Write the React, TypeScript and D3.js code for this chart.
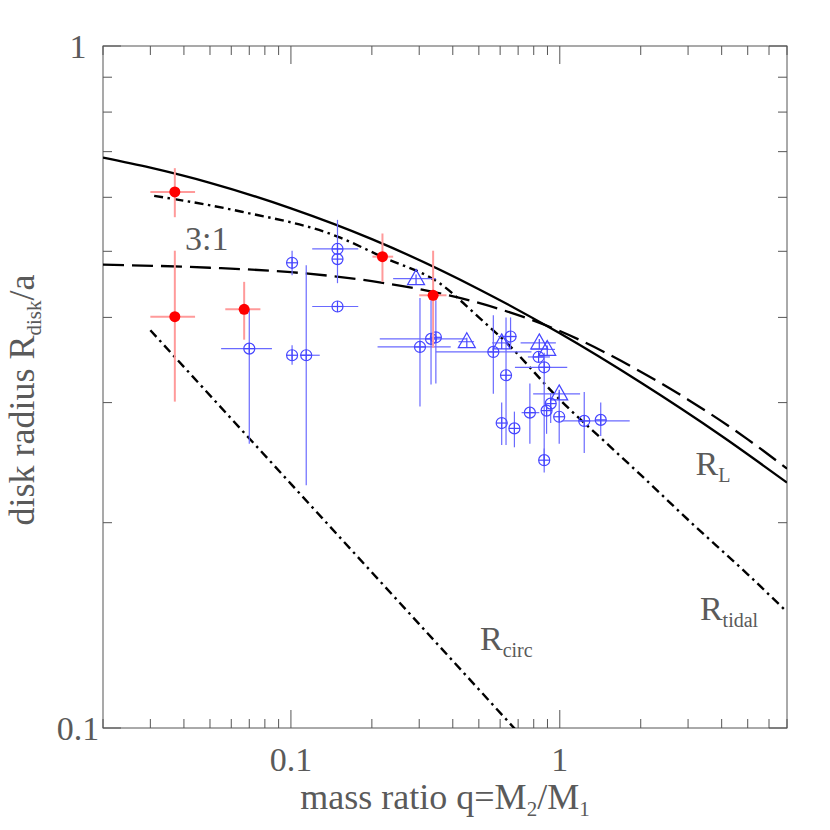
import React from "react";
import * as d3 from "d3";

// model curves (q, R/a)
const rlQ = [0.02, 0.03, 0.05, 0.1, 0.2, 0.5, 1, 2, 4, 7];
const rlR = [0.686, 0.663, 0.63, 0.578, 0.521, 0.44, 0.379, 0.321, 0.268, 0.229];
const res31Q = [0.02, 0.05, 0.1, 0.2, 0.3, 0.5, 1, 2, 3, 5, 7];
const res31R = [0.478, 0.473, 0.466, 0.452, 0.44, 0.42, 0.382, 0.333, 0.303, 0.265, 0.24];
const tidalQ = [0.031, 0.065, 0.15, 0.22, 0.36, 0.5, 0.63, 1, 1.5, 2, 3, 5, 7];
const tidalR = [0.603, 0.572, 0.525, 0.49, 0.448, 0.4, 0.368, 0.303, 0.261, 0.235, 0.202, 0.168, 0.148];
const circQ = [0.03, 0.1, 0.3, 0.7];
const circR = [0.383, 0.228, 0.142, 0.0985];

// red filled points
const redQ = [0.037, 0.037, 0.067, 0.219, 0.338];
const redR = [0.611, 0.401, 0.411, 0.491, 0.431];
const redQLo = [0.03, 0.03, 0.057, 0.201, 0.3];
const redQHi = [0.044, 0.044, 0.077, 0.24, 0.379];
const redRLo = [0.561, 0.301, 0.371, 0.451, 0.361];
const redRHi = [0.662, 0.501, 0.451, 0.531, 0.501];

// blue open circles
const circQs = [0.101, 0.07, 0.101, 0.114, 0.149, 0.149, 0.149, 0.332, 0.346, 0.302, 0.566, 0.631,
  0.656, 0.608, 0.678, 0.834, 0.875, 0.925, 0.893, 0.774, 0.995, 1.233, 1.42, 0.875];
const circRs = [0.481, 0.36, 0.352, 0.352, 0.504, 0.487, 0.415, 0.372, 0.374, 0.362, 0.356, 0.329,
  0.375, 0.28, 0.275, 0.35, 0.338, 0.299, 0.292, 0.29, 0.286, 0.282, 0.283, 0.247];
const circQLo = [0.101, 0.055, 0.101, 0.108, 0.12, 0.149, 0.12, 0.214, 0.346, 0.21, 0.346, 0.631,
  0.59, 0.608, 0.678, 0.761, 0.681, 0.925, 0.893, 0.721, 0.995, 1.016, 1.42, 0.875];
const circQHi = [0.101, 0.085, 0.101, 0.128, 0.178, 0.149, 0.178, 0.448, 0.346, 0.393, 0.785, 0.631,
  0.69, 0.608, 0.678, 0.919, 1.066, 0.925, 0.893, 0.839, 0.995, 1.82, 1.42, 0.875];
const circRLo = [0.461, 0.261, 0.341, 0.227, 0.449, 0.487, 0.415, 0.319, 0.32, 0.296, 0.309, 0.26,
  0.36, 0.26, 0.258, 0.35, 0.245, 0.28, 0.27, 0.261, 0.261, 0.253, 0.268, 0.237];
const circRHi = [0.501, 0.41, 0.364, 0.477, 0.556, 0.487, 0.415, 0.424, 0.424, 0.427, 0.403, 0.4,
  0.4, 0.3, 0.291, 0.35, 0.355, 0.31, 0.3, 0.32, 0.311, 0.311, 0.3, 0.257];

// blue open triangles
const triQ = [0.292, 0.451, 0.608, 0.839, 0.898, 0.995];
const triR = [0.456, 0.3685, 0.367, 0.367, 0.359, 0.309];
const triQLo = [0.24, 0.42, 0.56, 0.715, 0.78, 0.796];
const triQHi = [0.346, 0.48, 0.66, 0.967, 0.96, 1.19];

const xMajor = [0.1, 1];
const xTickLabels = ["0.1", "1"];
const yMajor = [0.1, 1];
const yTickLabels = ["0.1", "1"];

const font = "'Liberation Serif', 'Times New Roman', serif";
const textCol = "#5a5a5a";
const blue = "#4646ff";
const blueBar = "#6a6aff";
const red = "#ff0000";
const redBar = "#ff9a9a";

export default function App() {
  const x = d3.scaleLog().domain([0.02, 7]).range([103, 787]);
  const y = d3.scaleLog().domain([0.1, 1]).range([728, 46]);
  const [x0, x1] = x.range();
  const [y0, y1] = y.range();

  const line = d3.line<[number, number]>()
    .x(d => x(d[0]))
    .y(d => y(d[1]))
    .curve(d3.curveMonotoneX);
  const pairs = (qs: number[], rs: number[]) => qs.map((q, i) => [q, rs[i]] as [number, number]);

  const isMajor = (v: number) => Math.abs(Math.log10(v) - Math.round(Math.log10(v))) < 1e-6;
  const xt = x.ticks();
  const yt = y.ticks();

  const tri = (cx: number, cy: number) =>
    `M${cx},${cy - 9}L${cx + 8.5},${cy + 6}L${cx - 8.5},${cy + 6}Z`;

  return (
    <svg width={830} height={830} style={{ position: "absolute", left: 0, top: 0 }}>
      <rect width={830} height={830} fill="white" />
      <defs>
        <clipPath id="plot">
          <rect x={x0} y={y1} width={x1 - x0} height={y0 - y1} />
        </clipPath>
      </defs>

      {/* ticks on all four sides */}
      <g stroke="#555" strokeWidth={1}>
        {xt.map((v, i) => {
          const len = isMajor(v) ? 18 : 9;
          return (
            <g key={"xt" + i}>
              <line x1={x(v)} x2={x(v)} y1={y0} y2={y0 - len} />
              <line x1={x(v)} x2={x(v)} y1={y1} y2={y1 + len} />
            </g>
          );
        })}
        {yt.map((v, i) => {
          const len = isMajor(v) ? 18 : 9;
          return (
            <g key={"yt" + i}>
              <line x1={x0} x2={x0 + len} y1={y(v)} y2={y(v)} />
              <line x1={x1} x2={x1 - len} y1={y(v)} y2={y(v)} />
            </g>
          );
        })}
        <rect x={x0} y={y1} width={x1 - x0} height={y0 - y1} fill="none" />
      </g>

      {/* tick labels */}
      <g fontFamily={font} fontSize={34} fill={textCol} textAnchor="middle">
        {xMajor.map((v, i) => (
          <text key={"xl" + i} x={x(v)} y={771}>{xTickLabels[i]}</text>
        ))}
        {yMajor.map((v, i) => (
          <text key={"yl" + i} x={78} y={y(v) + 12}>{yTickLabels[i]}</text>
        ))}
      </g>

      {/* axis titles */}
      <text x={445} y={809} fontFamily={font} fontSize={36} fill={textCol} textAnchor="middle">
        mass ratio q=M<tspan fontSize={21} dy={7}>2</tspan><tspan dy={-7}>/M</tspan>
        <tspan fontSize={21} dy={7}>1</tspan>
      </text>
      <text transform="translate(34,400) rotate(-90)" fontFamily={font} fontSize={36}
        fill={textCol} textAnchor="middle">
        disk radius R<tspan fontSize={21} dy={7}>disk</tspan><tspan dy={-7}>/a</tspan>
      </text>

      <g clipPath="url(#plot)">
        {/* model curves */}
        <path d={line(pairs(rlQ, rlR)) || ""} fill="none" stroke="#000" strokeWidth={2.3} />
        <path d={line(pairs(res31Q, res31R)) || ""} fill="none" stroke="#000" strokeWidth={2.3}
          strokeDasharray="21,8" />
        <path d={line(pairs(tidalQ, tidalR)) || ""} fill="none" stroke="#000" strokeWidth={2.4}
          strokeDasharray="9,4.5,2.5,4.5" />
        <path d={line(pairs(circQ, circR)) || ""} fill="none" stroke="#000" strokeWidth={2.4}
          strokeDasharray="9,4.5,2.5,4.5" />

        {/* blue circles */}
        {circQs.map((q, i) => {
          const cx = x(q), cy = y(circRs[i]);
          return (
            <g key={"c" + i} stroke={blue} fill="none" strokeWidth={1.2}>
              <line x1={x(circQLo[i])} x2={x(circQHi[i])} y1={cy} y2={cy} stroke={blueBar} />
              <line x1={cx} x2={cx} y1={y(circRLo[i])} y2={y(circRHi[i])} stroke={blueBar} />
              <circle cx={cx} cy={cy} r={5.5} />
              <line x1={cx - 5.5} x2={cx + 5.5} y1={cy} y2={cy} />
              <line x1={cx} x2={cx} y1={cy - 5.5} y2={cy + 5.5} />
            </g>
          );
        })}

        {/* blue triangles */}
        {triQ.map((q, i) => {
          const cx = x(q), cy = y(triR[i]);
          return (
            <g key={"t" + i} stroke={blue} fill="none" strokeWidth={1.2}>
              <line x1={x(triQLo[i])} x2={x(triQHi[i])} y1={cy} y2={cy} stroke={blueBar} />
              <path d={tri(cx, cy)} />
              <line x1={cx} x2={cx} y1={cy - 4} y2={cy + 6} />
            </g>
          );
        })}

        {/* red filled points */}
        {redQ.map((q, i) => {
          const cx = x(q), cy = y(redR[i]);
          return (
            <g key={"r" + i} stroke={redBar} strokeWidth={2}>
              <line x1={x(redQLo[i])} x2={x(redQHi[i])} y1={cy} y2={cy} />
              <line x1={cx} x2={cx} y1={y(redRLo[i])} y2={y(redRHi[i])} />
              <circle cx={cx} cy={cy} r={5.5} fill={red} stroke="none" />
            </g>
          );
        })}
      </g>

      {/* curve labels */}
      <g fontFamily={font} fontSize={34} fill={textCol}>
        <text x={x(3.2)} y={y(0.235)}>R<tspan fontSize={20} dy={7}>L</tspan></text>
        <text x={x(3.32)} y={y(0.144)}>R<tspan fontSize={20} dy={7}>tidal</tspan></text>
        <text x={x(0.505)} y={y(0.13)}>R<tspan fontSize={20} dy={7}>circ</tspan></text>
        <text x={x(0.0404)} y={y(0.502)}>3:1</text>
      </g>
    </svg>
  );
}
